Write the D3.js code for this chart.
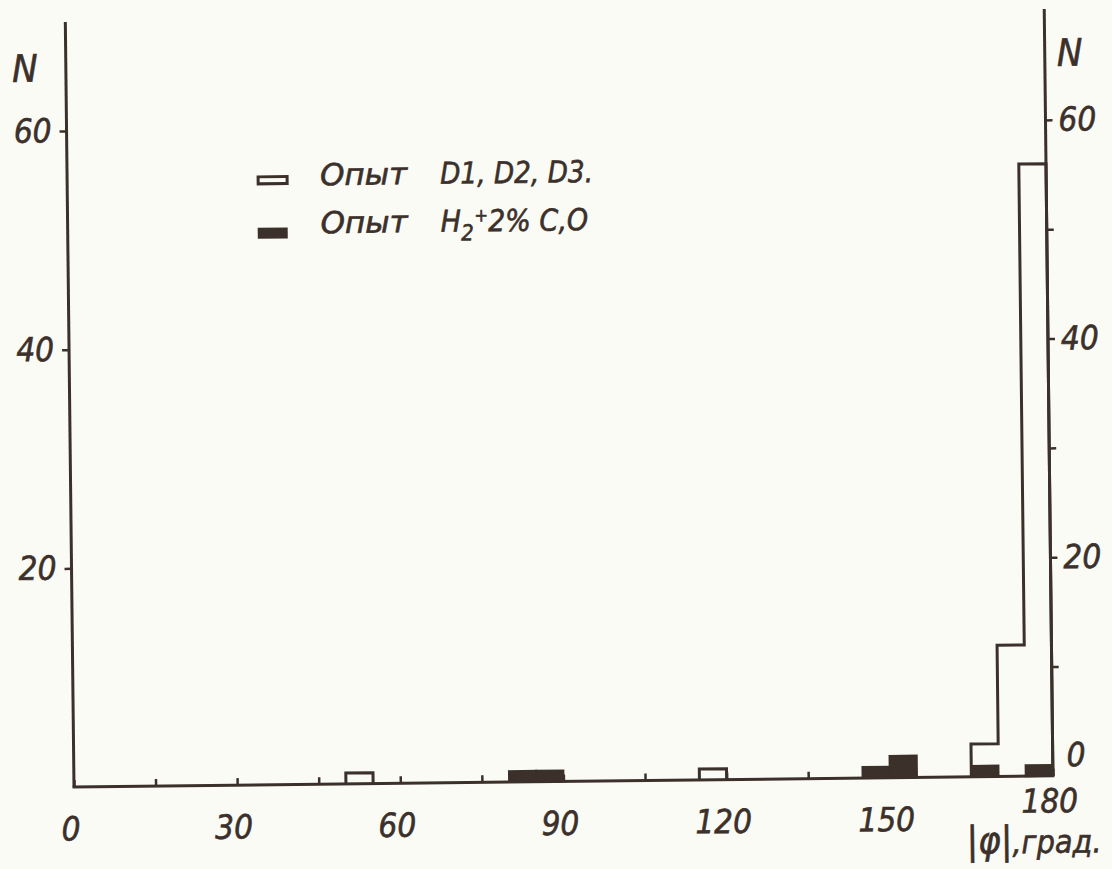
<!DOCTYPE html>
<html>
<head>
<meta charset="utf-8">
<script src="https://cdn.jsdelivr.net/npm/d3@7"></script>
<style>
  html, body { margin: 0; padding: 0; background: #fbfbf6; }
  svg { display: block; }
  text { font-family: "DejaVu Sans Condensed", "Liberation Sans Narrow", "DejaVu Sans", sans-serif; font-style: italic; fill: #3b302a; stroke: #3b302a; stroke-width: 0.6px; }
</style>
</head>
<body>
<svg id="chart" width="1112" height="869"></svg>
<script>
// Histogram of |φ| in 5-degree bins
const binWidth = 5;
const openBins = [50, 115, 165, 170, 175];      // Опыт D1, D2, D3
const openCounts = [1, 1, 3, 12, 56];
const filledBins = [80, 85, 145, 150, 165, 175]; // Опыт H2 + 2% CO
const filledCounts = [1, 1, 1, 2, 1, 1];

const xTickValues = [0, 15, 30, 45, 60, 75, 90, 105, 120, 135, 150, 165, 180];
const xTickLabels = [0, 30, 60, 90, 120, 150, 180];
const leftTickValues = [20, 40, 60];
const rightTickValues = [10, 20, 30, 40, 50, 60];
const rightTickLabels = [20, 40, 60];

const ink = "#3b302a";
const svg = d3.select("#chart");
const g = svg.append("g").attr("transform", "rotate(-0.65, 73, 787)");

const x = d3.scaleLinear().domain([0, 180]).range([74, 1053]);
const y = d3.scaleLinear().domain([0, 60]).range([787, 131]);

// axis frame lines
g.append("line").attr("x1", x(0)).attr("x2", x(0)).attr("y1", 22).attr("y2", y(0))
  .attr("stroke", ink).attr("stroke-width", 3);
g.append("line").attr("x1", x(180)).attr("x2", x(180)).attr("y1", 20).attr("y2", y(0))
  .attr("stroke", ink).attr("stroke-width", 3);
g.append("line").attr("x1", x(0) - 1.5).attr("x2", x(180) + 1.5).attr("y1", y(0)).attr("y2", y(0))
  .attr("stroke", ink).attr("stroke-width", 3);

// bottom axis: small inward ticks every 15°, labels every 30°
const xAxis = d3.axisBottom(x).tickValues(xTickValues).tickSizeInner(-7).tickSizeOuter(0).tickPadding(30)
  .tickFormat(d => xTickLabels.includes(d) ? d : "");
const gx = g.append("g").attr("transform", `translate(0,${y(0)})`).call(xAxis);
gx.select(".domain").remove();
gx.selectAll(".tick line").attr("stroke", ink).attr("stroke-width", 2.5);
gx.selectAll(".tick text").attr("font-size", 33).attr("dx", -4).attr("fill", ink)
  .attr("y", d => d === 180 ? 13 : 30);

// left axis
const yAxisL = d3.axisLeft(y).tickValues(leftTickValues).tickSize(7).tickPadding(8);
const gyl = g.append("g").attr("transform", `translate(${x(0)},0)`).call(yAxisL);
gyl.select(".domain").remove();
gyl.selectAll(".tick line").attr("stroke", ink).attr("stroke-width", 2.5);
gyl.selectAll(".tick text").attr("font-size", 33).attr("fill", ink);

// right axis
const yAxisR = d3.axisRight(y).tickValues(rightTickValues).tickSize(7).tickPadding(6)
  .tickFormat(d => rightTickLabels.includes(d) ? d : "");
const gyr = g.append("g").attr("transform", `translate(${x(180)},0)`).call(yAxisR);
gyr.select(".domain").remove();
gyr.selectAll(".tick line").attr("stroke", ink).attr("stroke-width", 2.5);
gyr.selectAll(".tick text").attr("font-size", 33).attr("fill", ink);
g.append("text").attr("x", x(180) + 14).attr("y", y(0) - 21).attr("dy", "0.35em")
  .attr("font-size", 33).text("0");

// axis names
g.append("text").attr("x", 33).attr("y", 68).attr("dy", "0.35em").attr("text-anchor", "middle")
  .attr("font-size", 38).text("N");
g.append("text").attr("x", 1078).attr("y", 64).attr("dy", "0.35em").attr("text-anchor", "middle")
  .attr("font-size", 38).text("N");
const title = g.append("text").attr("x", 966).attr("y", 864).attr("font-size", 32);
title.append("tspan").attr("font-size", 38).text("|φ|");
title.append("tspan").text(",град.");

// open histogram: stepped outline standing on the baseline
function stepOutline(bins, counts) {
  let d = "", prevEnd = null;
  bins.forEach((b, i) => {
    const x0 = x(b), x1 = x(b + binWidth), yy = y(counts[i]);
    if (prevEnd !== b) {
      if (d) d += `V${y(0)}`;
      d += `M${x0},${y(0)}V${yy}`;
    } else {
      d += `V${yy}`;
    }
    d += `H${x1}`;
    prevEnd = b + binWidth;
  });
  return d + `V${y(0)}`;
}
g.append("path").attr("d", stepOutline(openBins, openCounts))
  .attr("fill", "none").attr("stroke", ink).attr("stroke-width", 3).attr("stroke-linejoin", "miter");

// filled histogram bars
g.selectAll("rect.filled").data(filledBins.map((b, i) => ({ b, c: filledCounts[i] })))
  .join("rect").attr("class", "filled")
  .attr("x", d => x(d.b)).attr("width", d => x(d.b + binWidth) - x(d.b))
  .attr("y", d => y(d.c)).attr("height", d => y(0) - y(d.c))
  .attr("fill", ink).attr("stroke", ink).attr("stroke-width", 2);

// legend
const legend = g.append("g");
legend.append("rect").attr("x", 265).attr("y", 179).attr("width", 29).attr("height", 7)
  .attr("fill", "none").attr("stroke", ink).attr("stroke-width", 3);
legend.append("rect").attr("x", 264).attr("y", 230).attr("width", 30).attr("height", 11)
  .attr("fill", ink);
legend.append("text").attr("x", 327).attr("y", 188).attr("font-size", 30)
  .attr("textLength", 87).attr("lengthAdjust", "spacingAndGlyphs").text("Опыт");
legend.append("text").attr("x", 447).attr("y", 188).attr("font-size", 30)
  .attr("textLength", 153).attr("lengthAdjust", "spacingAndGlyphs").text("D1, D2, D3.");
legend.append("text").attr("x", 327).attr("y", 236).attr("font-size", 30)
  .attr("textLength", 87).attr("lengthAdjust", "spacingAndGlyphs").text("Опыт");
const t2 = legend.append("text").attr("x", 447).attr("y", 236).attr("font-size", 30);
t2.append("tspan").text("H");
t2.append("tspan").attr("font-size", 22).attr("dy", 9).text("2");
t2.append("tspan").attr("font-size", 18).attr("dy", -19).attr("dx", 1).text("+");
t2.append("tspan").attr("dy", 10).text("2% C,O");
</script>
</body>
</html>
